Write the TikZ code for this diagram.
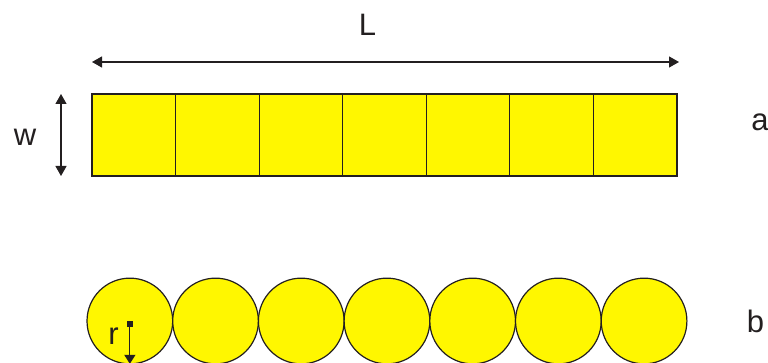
\documentclass[tikz,border=0pt]{standalone}
\usepackage{fontspec}
\setmainfont{Liberation Sans}
\usetikzlibrary{arrows.meta}
\definecolor{boxyellow}{RGB}{255,247,0}
\definecolor{inkgray}{RGB}{35,31,32}

\begin{document}
\begin{tikzpicture} [x=1pt, y=-1pt, font=\fontsize{31}{31}\selectfont, text=inkgray]
\useasboundingbox (0,0) rectangle (768,363);
\tikzset{cell/.style={draw=inkgray, fill=boxyellow, line width=1.2pt, inner sep=0, outer sep=0}}
% row of squares
\foreach \i in {0,...,6} {
 \node[cell, minimum width=83.57, minimum height=82] (sq\i) at ({133.79+83.57*\i},135) {};
}
% row of circles
\foreach \i in {0,...,6} {
 \node[cell, circle, minimum size=85.7] (ci\i) at ({129.86+85.7*\i},321) {};
}
\draw[inkgray, line width=1.2pt, <->, >={Triangle[length=10pt,width=11pt]}] ([yshift=32]sq0.north west)--([xshift=2, yshift=32]sq6.north east);
\draw[inkgray, line width=1.2pt, <->, >={Triangle[length=10pt,width=11pt]}] ([xshift=-31]sq0.north west)--([xshift=-31]sq0.south west);
\draw[inkgray, line width=1.2pt, {Square[length=6pt,width=6pt]}-{Triangle[length=9pt,width=11pt]}] (ci0.center)--(ci0.south);
\node (lablen) at (367.5,24.5) {L};
\node (labw) at (25,137) {w};
\node (labr) at (113.5,336.5) {r};
\node (laba) at (760,122) {a};
\node (labb) at (755.5,321.5) {b};
\end{tikzpicture}
\end{document}
